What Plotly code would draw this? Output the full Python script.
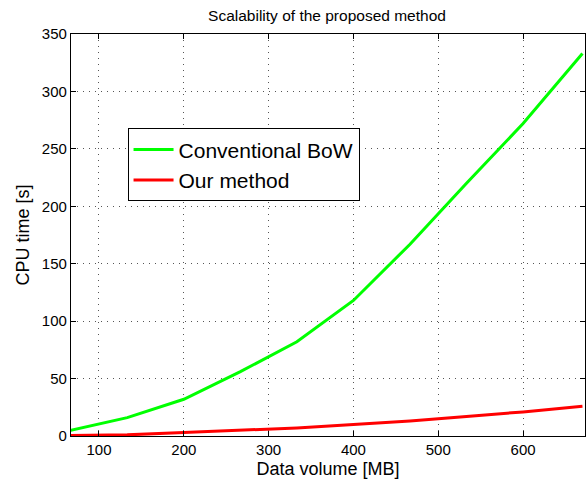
import plotly.graph_objects as go

data_volume = [66.7, 133.3, 200, 266.7, 333.3, 400, 466.7, 533.3, 600, 670]
conventional_bow = [5, 16, 32, 56, 82, 118, 167, 220, 272, 333]
our_method = [0.5, 1, 3, 5, 7, 10, 13, 17, 21, 26]
x_ticks = [100, 200, 300, 400, 500, 600]
y_ticks = [0, 50, 100, 150, 200, 250, 300, 350]

FONT = "Liberation Sans, Arial, Helvetica, sans-serif"

fig = go.Figure()
fig.add_trace(go.Scatter(x=data_volume, y=conventional_bow, mode="lines",
                         name="Conventional BoW",
                         line=dict(color="#00ff00", width=3)))
fig.add_trace(go.Scatter(x=data_volume, y=our_method, mode="lines",
                         name="Our method",
                         line=dict(color="#ff0000", width=3)))

axis_common = dict(
    showline=True, linecolor="black", linewidth=1.3, mirror="ticks",
    ticks="inside", ticklen=5, tickcolor="black",
    showgrid=True, gridcolor="#555555", gridwidth=1, griddash="1px,5px",
    zeroline=False, tickfont=dict(family=FONT, size=15, color="black"),
)

fig.update_xaxes(range=[67, 673], tickvals=x_ticks,
                 title=dict(text="Data volume [MB]", font=dict(family=FONT, size=18, color="black"), standoff=5),
                 **axis_common)
fig.update_yaxes(range=[0, 350], tickvals=y_ticks,
                 title=dict(text="CPU time [s]", font=dict(family=FONT, size=18, color="black"), standoff=7),
                 **axis_common)

fig.update_layout(
    width=586, height=481,
    margin=dict(l=71, r=1, t=34, b=45, autoexpand=False),
    paper_bgcolor="white", plot_bgcolor="white",
    title=dict(text="Scalability of the proposed method", x=327 / 586, xanchor="center",
               y=1 - 16 / 481, yanchor="middle",
               font=dict(family=FONT, size=15.5, color="black")),
    legend=dict(x=0.110, y=0.765, xanchor="left", yanchor="top",
                bgcolor="white", bordercolor="black", borderwidth=1,
                font=dict(family=FONT, size=21, color="black"),
                itemwidth=40, tracegroupgap=0),
    showlegend=True,
)

fig.write_html("out.html")
